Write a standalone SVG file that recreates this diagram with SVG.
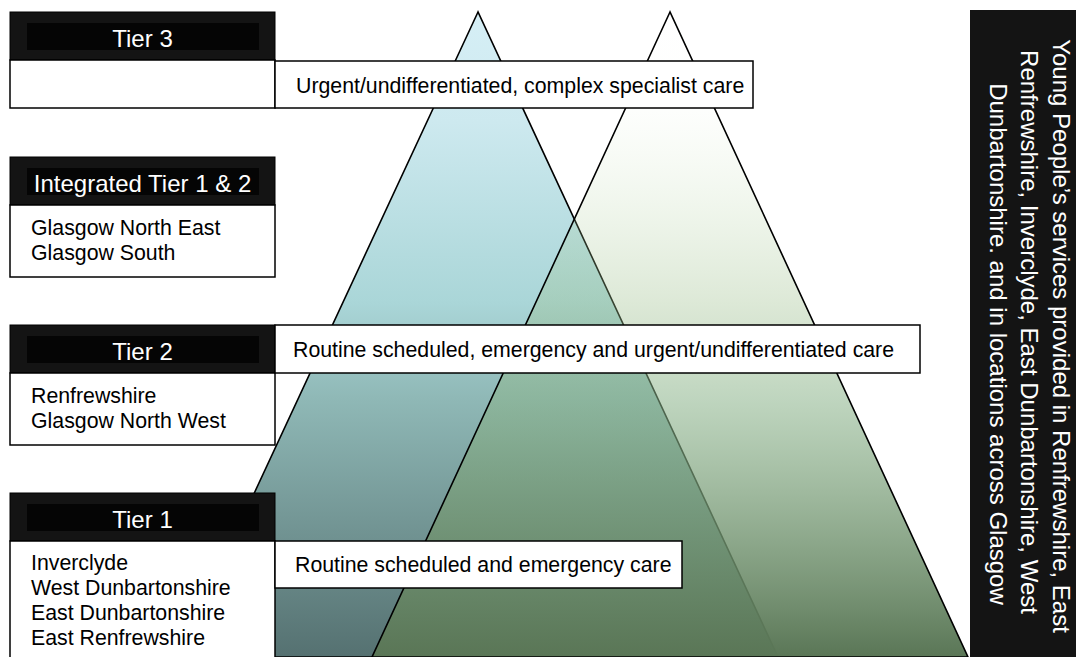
<svg xmlns="http://www.w3.org/2000/svg" width="1076" height="657" viewBox="0 0 1076 657">
<defs>
<linearGradient id="gBlue" gradientUnits="userSpaceOnUse" x1="0" y1="12" x2="0" y2="657">
<stop offset="0" stop-color="#d6eff6"/>
<stop offset="0.17" stop-color="#cde9ef"/>
<stop offset="0.45" stop-color="#aad6d8"/>
<stop offset="0.6" stop-color="#8fb8b6"/>
<stop offset="1" stop-color="#557171"/>
</linearGradient>
<linearGradient id="gGreen" gradientUnits="userSpaceOnUse" x1="0" y1="12" x2="0" y2="657">
<stop offset="0" stop-color="#c8e4b8" stop-opacity="0"/>
<stop offset="0.15" stop-color="#c3e0b0" stop-opacity="0.03"/>
<stop offset="0.45" stop-color="#9dbf8c" stop-opacity="0.35"/>
<stop offset="0.6" stop-color="#8ab38a" stop-opacity="0.55"/>
<stop offset="1" stop-color="#5a7656" stop-opacity="1"/>
</linearGradient>
</defs>
<style>
.tri{stroke:#000;stroke-width:1.6;stroke-linejoin:miter}
.hdr{fill:#141414;stroke:#000;stroke-width:1}
.hin{fill:#050505}
.box{fill:#fff;stroke:#000;stroke-width:1.5}
.ht{font-family:"Liberation Sans",Arial,sans-serif;font-size:24px;fill:#fff;text-anchor:middle}
.bt{font-family:"Liberation Sans",Arial,sans-serif;font-size:21.3px;fill:#000}
.st{font-family:"Liberation Sans",Arial,sans-serif;font-size:24px;fill:#fff;text-anchor:middle}
</style>
<rect width="1076" height="657" fill="#fff"/>
<g id="triangle-blue"><polygon class="tri" fill="url(#gBlue)" points="478,12 178,657 778,657"/></g>
<g id="triangle-green"><polygon class="tri" fill="url(#gGreen)" points="670,12 372,657 968,657"/></g>
<g id="connectors"/>
<g id="tier3">
<rect class="hdr" x="10" y="12" width="265" height="48"/>
<rect class="hin" x="27" y="23" width="232" height="27"/>
<text class="ht" x="142.5" y="47">Tier 3</text>
<rect class="box" x="10" y="60" width="265" height="48"/>
</g>
<g id="label-tier3">
<rect class="box" x="275" y="61" width="478" height="47"/>
<text class="bt" x="296" y="93">Urgent/undifferentiated, complex specialist care</text>
</g>
<g id="tier12">
<rect class="hdr" x="10" y="157" width="265" height="48"/>
<rect class="hin" x="27" y="168" width="232" height="27"/>
<text class="ht" x="142.5" y="192">Integrated Tier 1 &amp; 2</text>
<rect class="box" x="10" y="205" width="265" height="72"/>
<text class="bt" x="31" y="235">Glasgow North East</text>
<text class="bt" x="31" y="260">Glasgow South</text>
</g>
<g id="tier2">
<rect class="hdr" x="10" y="325" width="265" height="48"/>
<rect class="hin" x="27" y="336" width="232" height="27"/>
<text class="ht" x="142.5" y="360">Tier 2</text>
<rect class="box" x="10" y="373" width="265" height="72"/>
<text class="bt" x="31" y="403">Renfrewshire</text>
<text class="bt" x="31" y="428">Glasgow North West</text>
</g>
<g id="label-tier2">
<rect class="box" x="275" y="325" width="645" height="48"/>
<text class="bt" x="293" y="357">Routine scheduled, emergency and urgent/undifferentiated care</text>
</g>
<g id="tier1">
<rect class="hdr" x="10" y="493" width="265" height="48"/>
<rect class="hin" x="27" y="504" width="232" height="27"/>
<text class="ht" x="142.5" y="528">Tier 1</text>
<rect class="box" x="10" y="541" width="265" height="120"/>
<text class="bt" x="31" y="570">Inverclyde</text>
<text class="bt" x="31" y="595">West Dunbartonshire</text>
<text class="bt" x="31" y="620">East Dunbartonshire</text>
<text class="bt" x="31" y="645">East Renfrewshire</text>
</g>
<g id="label-tier1">
<rect class="box" x="275" y="541" width="407" height="47"/>
<text class="bt" x="295" y="572">Routine scheduled and emergency care</text>
</g>
<g id="side-note">
<rect x="970" y="10" width="110" height="650" fill="#141414"/>
<text class="st" transform="translate(1053,336) rotate(90)">Young People’s services provided in Renfrewshire, East</text>
<text class="st" transform="translate(1021,332) rotate(90)">Renfrewshire, Inverclyde, East Dunbartonshire, West</text>
<text class="st" transform="translate(990,344) rotate(90)">Dunbartonshire. and in locations across Glasgow</text>
</g>
</svg>
